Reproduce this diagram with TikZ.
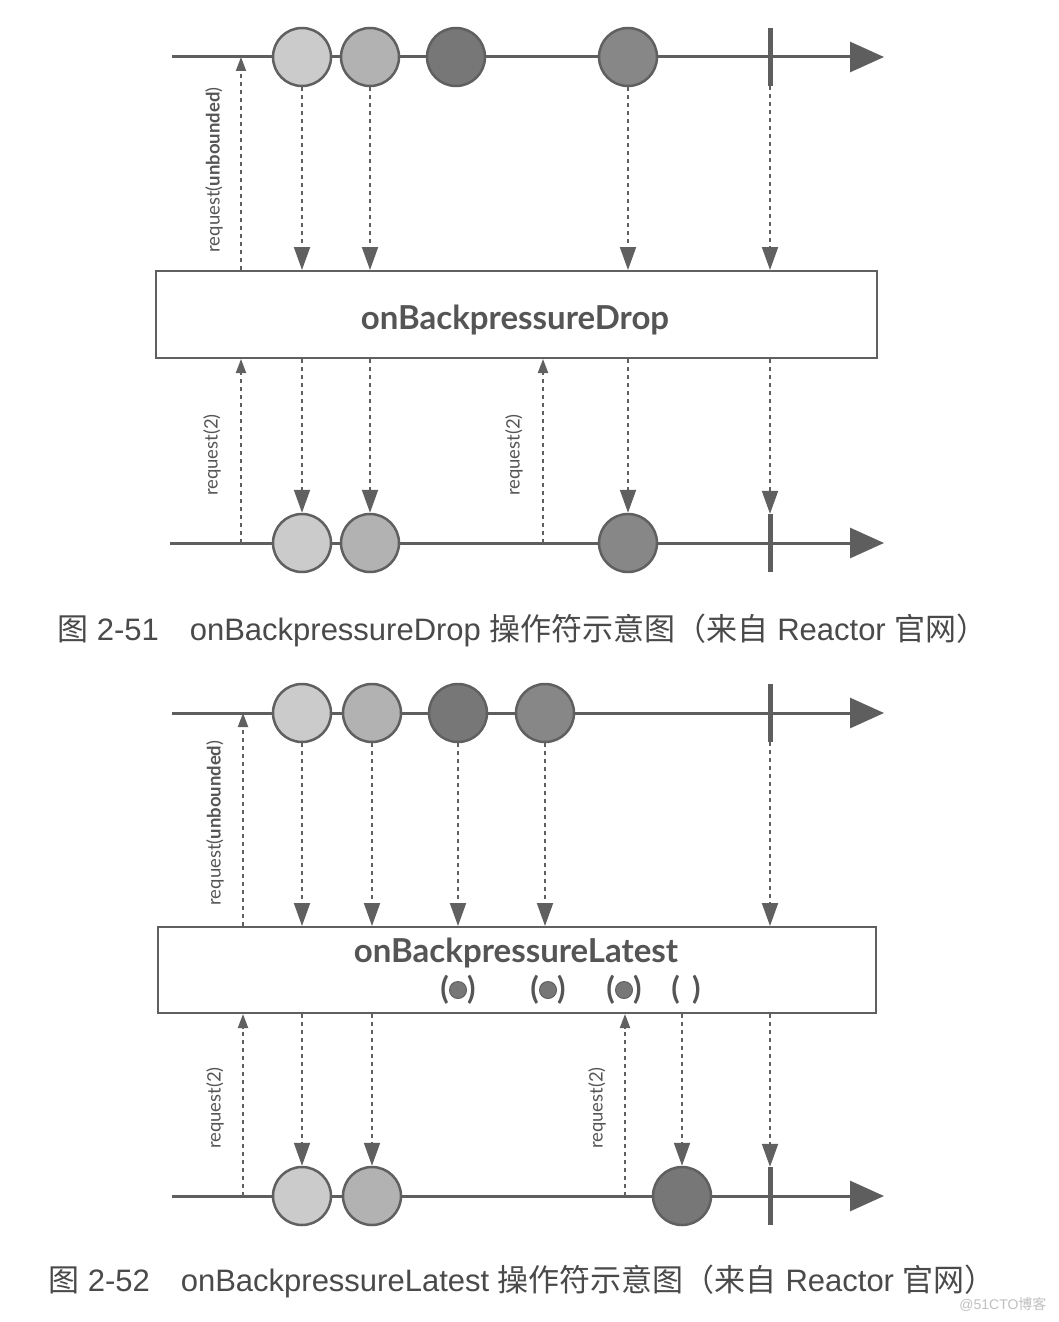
\documentclass[tikz,border=0pt]{standalone}
\usepackage{fontspec}
\setmainfont{Liberation Sans}
\newfontfamily\cjk{Noto Sans CJK SC}
\newfontfamily\gill{Lato}
\usetikzlibrary{arrows.meta}
\definecolor{linec}{HTML}{5E5E5E}
\definecolor{edgec}{HTML}{606060}
\definecolor{arrc}{HTML}{606060}
\definecolor{txtc}{HTML}{555555}
\definecolor{capc}{HTML}{4A4A4A}
\definecolor{mA}{HTML}{CBCBCB}
\definecolor{mB}{HTML}{B2B2B2}
\definecolor{mC}{HTML}{777777}
\definecolor{mD}{HTML}{878787}
\begin{document}
\begin{tikzpicture}[x=1pt,y=-1pt,
 axis/.style={draw=linec, line width=3pt, -{Triangle[length=34pt,width=30pt]}},
 marble/.style={circle, draw=edgec, line width=2.5pt, minimum size=58pt, inner sep=0pt},
 endbar/.style={fill=linec, minimum width=5pt, minimum height=58pt, inner sep=0pt},
 emit/.style={draw=arrc, line width=2pt, dash pattern=on 4pt off 4pt, -{Triangle[length=23pt,width=16pt]}},
 reqarrow/.style={draw=arrc, line width=2pt, dash pattern=on 4pt off 4pt, -{Triangle[length=14pt,width=10pt]}},
 opbox/.style={draw=edgec, line width=2pt, fill=white, inner sep=0pt},
 optext/.style={font=\gill\bfseries\fontsize{33}{34}\selectfont, text=txtc},
 reqlabel/.style={rotate=90, font=\gill\fontsize{18.5}{18.5}\selectfont, text=txtc},
 caption/.style={font=\fontsize{31}{33}\selectfont, text=capc, anchor=west, inner sep=0pt},
 paren/.style={font=\gill\bfseries\fontsize{31}{31}\selectfont, text=txtc},
 dot/.style={circle, fill=mC, draw=edgec, line width=1pt, minimum width=17pt, minimum height=17pt, inner sep=0pt}
]
\useasboundingbox (0,0) rectangle (1058,1322);
\fill[white] (0,0) rectangle (1058,1322);

% ===================== Diagram 1 =====================
\coordinate (t1s) at (172,57);
\coordinate (t1e) at (884,57);
\draw[axis] (t1s) -- (t1e);
\node[marble, fill=mA] (a1) at (302,57) {};
\node[marble, fill=mB] (a2) at (370,57) {};
\node[marble, fill=mC] (a3) at (456,57) {};
\node[marble, fill=mD] (a4) at (628,57) {};
\node[endbar] (ab) at (770,57) {};

\node[opbox, minimum width=721pt, minimum height=87pt] (box1) at (516.5,314.5) {};
\node[optext] (op1) at (515,320) {onBackpressureDrop};

\coordinate (r1a) at (241,57);
\draw[reqarrow] (box1.north -| r1a) -- (r1a);
\node[reqlabel] (l1a) at (214,170) {request(\textbf{unbounded})};

\foreach \n in {a1,a2,a4,ab} {
  \draw[emit] (\n.south) -- (\n.south |- box1.north);
}

\coordinate (b1s) at (170,543);
\coordinate (b1e) at (884,543);
\draw[axis] (b1s) -- (b1e);
\node[marble, fill=mA] (b1) at (302,543) {};
\node[marble, fill=mB] (b2) at (370,543) {};
\node[marble, fill=mD] (b4) at (628,543) {};
\node[endbar] (bb) at (770,543) {};

\coordinate (q1a) at (241,543);
\coordinate (q1b) at (543,543);
\draw[reqarrow] (q1a) -- (q1a |- box1.south);
\draw[reqarrow] (q1b) -- (q1b |- box1.south);
\node[reqlabel] (m1a) at (212,455) {request(2)};
\node[reqlabel] (m1b) at (514,455) {request(2)};

\foreach \n in {b1,b2,b4,bb} {
  \draw[emit] (box1.south -| \n) -- (\n.north);
}

\node[caption] (cap1) at (57,630) {{\cjk 图} 2-51\hspace{31pt}onBackpressureDrop {\cjk 操作符示意图（来自} Reactor {\cjk 官网）}};

% ===================== Diagram 2 =====================
\coordinate (t2s) at (172,713);
\coordinate (t2e) at (884,713);
\draw[axis] (t2s) -- (t2e);
\node[marble, fill=mA] (c1) at (302,713) {};
\node[marble, fill=mB] (c2) at (372,713) {};
\node[marble, fill=mC] (c3) at (458,713) {};
\node[marble, fill=mD] (c4) at (545,713) {};
\node[endbar] (cb) at (770,713) {};

\node[opbox, minimum width=718pt, minimum height=86pt] (box2) at (517,970) {};
\node[optext] (op2) at (516,953) {onBackpressureLatest};
\node[paren] (p1) at (458,990) {(\hspace{18pt})};
\node[dot] (p1d) at (458,990) {};
\node[paren] (p2) at (548,990) {(\hspace{18pt})};
\node[dot] (p2d) at (548,990) {};
\node[paren] (p3) at (624,990) {(\hspace{18pt})};
\node[dot] (p3d) at (624,990) {};
\node[paren] (p4) at (686,990) {(\hspace{12pt})};

\coordinate (r2a) at (243,713);
\draw[reqarrow] (box2.north -| r2a) -- (r2a);
\node[reqlabel] (l2a) at (215,823) {request(\textbf{unbounded})};

\foreach \n in {c1,c2,c3,c4,cb} {
  \draw[emit] (\n.south) -- (\n.south |- box2.north);
}

\coordinate (b2s) at (172,1196);
\coordinate (b2e) at (884,1196);
\draw[axis] (b2s) -- (b2e);
\node[marble, fill=mA] (d1) at (302,1196) {};
\node[marble, fill=mB] (d2) at (372,1196) {};
\node[marble, fill=mC] (d4) at (682,1196) {};
\node[endbar] (db) at (770,1196) {};

\coordinate (q2a) at (243,1196);
\coordinate (q2b) at (625,1196);
\draw[reqarrow] (q2a) -- (q2a |- box2.south);
\draw[reqarrow] (q2b) -- (q2b |- box2.south);
\node[reqlabel] (m2a) at (215,1108) {request(2)};
\node[reqlabel] (m2b) at (597,1108) {request(2)};

\foreach \n in {d1,d2,d4,db} {
  \draw[emit] (box2.south -| \n) -- (\n.north);
}

\node[caption] (cap2) at (48,1281) {{\cjk 图} 2-52\hspace{31pt}onBackpressureLatest {\cjk 操作符示意图（来自} Reactor {\cjk 官网）}};

\node[font=\fontsize{14}{14}\selectfont, text=black!25, anchor=east] (wm) at (1050,1305) {@51CTO{\cjk 博客}};
\end{tikzpicture}
\end{document}
